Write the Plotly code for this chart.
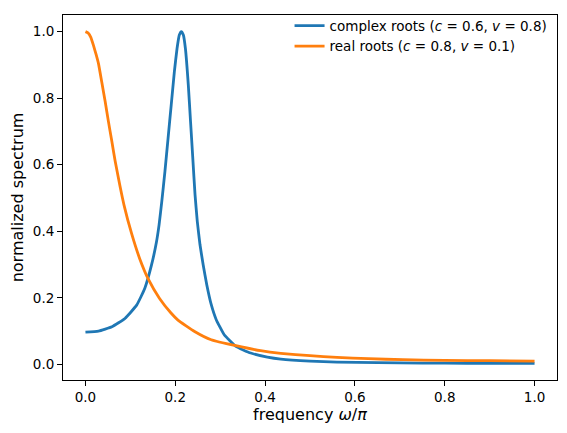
import plotly.graph_objects as go

# values (frequency in units of pi)
freq_complex = [0, 0.029, 0.059, 0.088, 0.114, 0.132, 0.147, 0.158, 0.164, 0.170,
                0.177, 0.184, 0.191, 0.198, 0.204, 0.209, 0.2135, 0.218, 0.2225,
                0.229, 0.234, 0.239, 0.244, 0.249, 0.255, 0.262, 0.270, 0.280,
                0.291, 0.309, 0.335, 0.368, 0.405, 0.435, 0.5, 0.56, 0.65, 0.75,
                0.85, 1.0]
spec_complex = [0.097, 0.100, 0.113, 0.138, 0.178, 0.228, 0.298, 0.367, 0.420, 0.490,
                0.580, 0.680, 0.780, 0.880, 0.950, 0.990, 1.0, 0.990, 0.950,
                0.840, 0.730, 0.620, 0.510, 0.430, 0.360, 0.300, 0.240, 0.180,
                0.135, 0.089, 0.054, 0.034, 0.022, 0.016, 0.010, 0.007, 0.005, 0.004,
                0.003, 0.003]

freq_real = [0, 0.006, 0.012, 0.018, 0.024, 0.029, 0.0365, 0.044, 0.051, 0.059,
             0.066, 0.077, 0.086, 0.103, 0.121, 0.140, 0.165, 0.19, 0.206, 0.243,
             0.28, 0.335, 0.39, 0.435, 0.5, 0.56, 0.63, 0.707, 0.8, 0.9, 1.0]
spec_real = [1.0, 0.996, 0.983, 0.958, 0.930, 0.904, 0.847, 0.789, 0.731, 0.668,
             0.612, 0.535, 0.478, 0.392, 0.317, 0.256, 0.198, 0.155, 0.133, 0.099,
             0.074, 0.056, 0.041, 0.033, 0.026, 0.021, 0.017, 0.014, 0.012, 0.011, 0.010]

ticks = [0.0, 0.2, 0.4, 0.6, 0.8, 1.0]
tick_text = ["0.0", "0.2", "0.4", "0.6", "0.8", "1.0"]

fig = go.Figure()
fig.add_trace(go.Scatter(x=freq_complex, y=spec_complex, mode="lines",
                         line=dict(color="#1f77b4", width=2.8, shape="spline", smoothing=0.4),
                         name="complex roots (<i>c</i> = 0.6, <i>v</i> = 0.8)"))
fig.add_trace(go.Scatter(x=freq_real, y=spec_real, mode="lines",
                         line=dict(color="#ff7f0e", width=2.8, shape="spline", smoothing=0.4),
                         name="real roots (<i>c</i> = 0.8, <i>v</i> = 0.1)"))

axis_style = dict(showline=True, linecolor="black", linewidth=1, mirror=True,
                  ticks="outside", ticklen=5, tickcolor="black", showgrid=False,
                  zeroline=False, tickvals=ticks, ticktext=tick_text, automargin=False)

fig.update_xaxes(range=[-0.05, 1.05], title=dict(text="frequency <i>ω</i>/<i>π</i>", standoff=2), **axis_style)
fig.update_yaxes(range=[-0.047, 1.05], title=dict(text="normalized spectrum", standoff=5), **axis_style)

fig.update_layout(
    width=567, height=433,
    margin=dict(l=63, r=10, t=11, b=53),
    paper_bgcolor="white", plot_bgcolor="white",
    font=dict(family="DejaVu Sans", size=13.5, color="black"),
    legend=dict(x=0.991, y=1.013, xanchor="right", yanchor="top",
                bgcolor="rgba(0,0,0,0)", font=dict(size=13.5)),
)

# drop the default 8px body margin so the figure sits at the page corner
fig.write_html("out.html", config={"displayModeBar": False},
               post_script="document.body.style.margin='0';")
